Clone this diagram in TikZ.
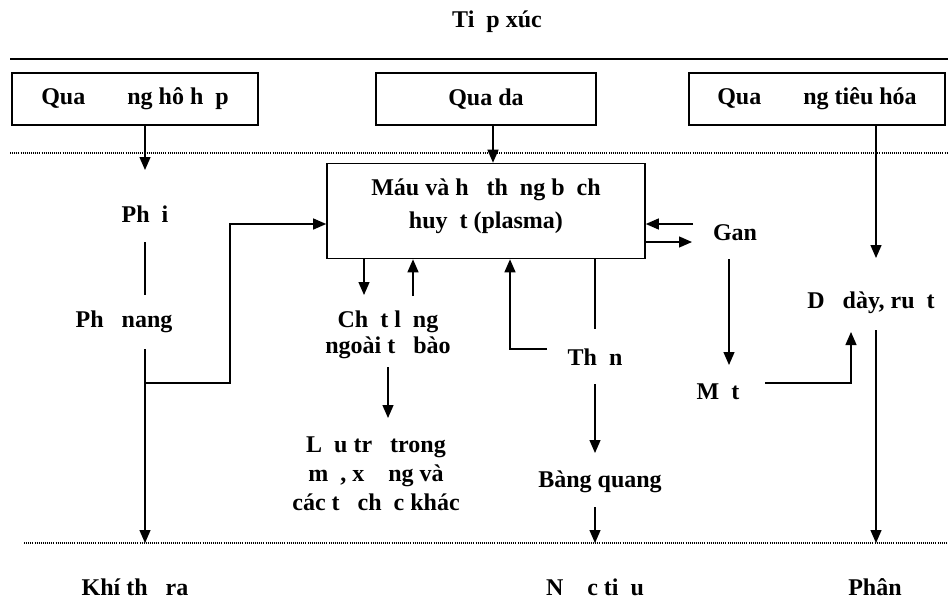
\documentclass[tikz,border=0pt]{standalone}
\usepackage{fontspec}
\setmainfont{Liberation Serif}
\usetikzlibrary{arrows.meta}
% blank left where a glyph is missing
\newcommand{\mx}{\hspace*{0.5em}}
\begin{document}
\begin{tikzpicture}[x=1pt,y=-1pt,
  lbl/.style={font=\fontsize{24}{28}\selectfont\bfseries, inner sep=0pt, align=center},
  route/.style={draw, line width=1.6pt, inner sep=0pt, font=\fontsize{24}{28}\selectfont\bfseries, align=center},
  wire/.style={line width=1.3pt},
  arr/.style={wire, -{Triangle[length=13pt,width=11pt]}},
  sep/.style={line width=1.1pt, dash pattern=on 1pt off 1.1pt},
]
\useasboundingbox (0,0) rectangle (948,600);

% title and separators
\node[lbl] (title) at (497,22) {Ti\mx p xúc};
\draw[line width=2.2pt] (10,59) -- (948,59);
\draw[sep] (10,153) -- (948,153);
\draw[sep] (24,543) -- (948,543);

% entry routes
\node[route, minimum width=246pt, minimum height=52pt] (boxL) at (135,99) {Qua \mx\mx\mx ng hô h\mx p};
\node[route, minimum width=220pt, minimum height=52pt] (boxM) at (486,99) {Qua da};
\node[route, minimum width=256pt, minimum height=52pt] (boxR) at (817,99) {Qua \mx\mx\mx ng tiêu hóa};

% blood and lymph
\node[route, minimum width=318pt, minimum height=95pt] (blood) at (486,211) {};
\node[lbl, font=\fontsize{24}{33}\selectfont\bfseries] (bloodtxt) at (486,206) {Máu và h\mx{} th\mx ng b\mx ch\\huy\mx t (plasma)};

% organs and compartments
\node[lbl] (phoi) at (145,214) {Ph\mx i};
\node[lbl] (nang) at (124,322) {Ph\mx{} nang};
\node[lbl] (gan) at (735,233) {Gan};
\node[lbl] (daday) at (871,303) {D\mx{} dày, ru\mx t};
\node[lbl, font=\fontsize{24}{26}\selectfont\bfseries] (ecf) at (388,335) {Ch\mx t l\mx ng\\ngoài t\mx{} bào};
\node[lbl] (than) at (595,357) {Th\mx n};
\node[lbl] (mat) at (718,392) {M\mx t};
\node[lbl, font=\fontsize{24}{29}\selectfont\bfseries] (store) at (376,474) {L\mx u tr\mx{} trong\\m\mx, x\mx\mx ng và\\các t\mx{} ch\mx c khác};
\node[lbl] (bq) at (600,482) {Bàng quang};

% outputs
\node[lbl] (khi) at (135,587) {Khí th\mx{} ra};
\node[lbl] (nuoc) at (595,587) {N\mx\mx c ti\mx u};
\node[lbl] (phan) at (875,587) {Phân};

% connector ends and bends
\coordinate (phoiTop) at (145,170);
\coordinate (phoiBot) at (145,242);
\coordinate (nangTop) at (145,295);
\coordinate (nangBot) at (145,349);
\coordinate (bendA) at (230,383);
\coordinate (exhale) at (145,543);
\coordinate (daX) at (493,0);
\coordinate (ecfDown) at (364,295);
\coordinate (ecfUp) at (413,296);
\coordinate (ecfBot) at (388,367);
\coordinate (storeTop) at (388,418);
\coordinate (ganIn) at (693,224);
\coordinate (ganOut) at (692,242);
\coordinate (ganBot) at (729,259);
\coordinate (matTop) at (729,365);
\coordinate (matR) at (765,383);
\coordinate (ddIn) at (851,332);
\coordinate (giX) at (876,0);
\coordinate (ddTop) at (876,258);
\coordinate (ddBot) at (876,330);
\coordinate (feces) at (876,543);
\coordinate (thanTop) at (595,329);
\coordinate (thanL) at (547,349);
\coordinate (retX) at (510,0);
\coordinate (thanBot) at (595,384);
\coordinate (bqTop) at (595,453);
\coordinate (bqBot) at (595,507);
\coordinate (urine) at (595,543);

% respiratory path
\draw[arr] (phoiTop |- boxL.south) -- (phoiTop);
\draw[wire] (phoiBot) -- (nangTop);
\draw[arr] (nangBot) -- (exhale);
\draw[arr] (nangBot |- bendA) -- (bendA) |- ([yshift=-13pt]blood.west);

% skin path
\draw[arr] (boxM.south -| daX) -- (blood.north -| daX);

% extracellular fluid and storage
\draw[arr] (blood.south -| ecfDown) -- (ecfDown);
\draw[arr] (ecfUp) -- (blood.south -| ecfUp);
\draw[arr] (ecfBot) -- (storeTop);

% liver and bile
\draw[arr] (ganIn) -- (ganIn -| blood.east);
\draw[arr] (ganOut -| blood.east) -- (ganOut);
\draw[arr] (ganBot) -- (matTop);
\draw[arr] (matR) -| (ddIn);

% digestive path
\draw[arr] (boxR.south -| giX) -- (ddTop);
\draw[arr] (ddBot) -- (feces);

% kidney and bladder
\draw[wire] (blood.south -| thanTop) -- (thanTop);
\draw[arr] (thanL) -| (blood.south -| retX);
\draw[arr] (thanBot) -- (bqTop);
\draw[arr] (bqBot) -- (urine);
\end{tikzpicture}
\end{document}
